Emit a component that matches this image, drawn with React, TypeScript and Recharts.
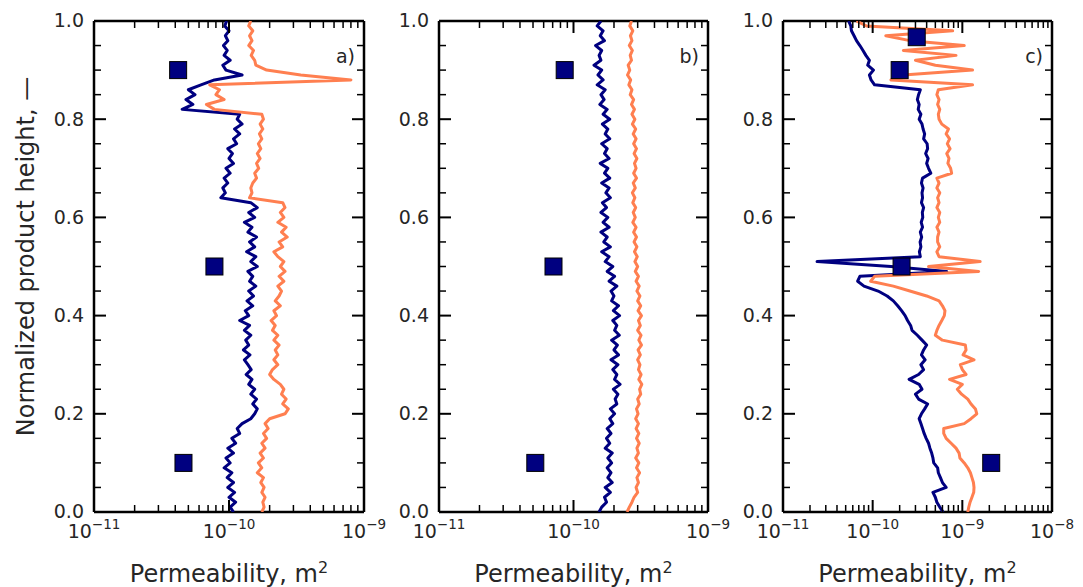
import { ComposedChart, Scatter, XAxis, YAxis } from "recharts"

// permeability values are stored in units of 1e-10 m^2, sampled from height 1.00 down to 0.00
const HEIGHTS = Array.from({ length: 101 }, (_, i) => (100 - i) / 100)

const blueA = [
    0.96, 0.93, 1.0, 0.94, 0.98, 0.91, 0.97, 0.92, 1.02, 0.9,
    0.95, 1.25, 0.78, 0.62, 0.5, 0.56, 0.48, 0.54, 0.45, 1.2,
    1.15, 1.25, 1.1, 1.2, 1.08, 1.14, 0.98, 1.06, 1.0, 1.08,
    0.95, 1.02, 0.92, 0.98, 0.9, 0.94, 0.87, 1.45, 1.62, 1.4,
    1.55, 1.3, 1.48, 1.38, 1.6, 1.42, 1.55, 1.35, 1.58, 1.45,
    1.62, 1.38, 1.5, 1.42, 1.58, 1.4, 1.52, 1.36, 1.5, 1.32,
    1.4, 1.2, 1.42, 1.3, 1.45, 1.33, 1.4, 1.28, 1.43, 1.3,
    1.38, 1.46, 1.34, 1.48, 1.4, 1.55, 1.45, 1.6, 1.5, 1.62,
    1.55, 1.45, 1.25, 1.15, 1.2, 1.05, 1.12, 0.98, 1.08, 0.95,
    1.02, 0.92, 1.05, 0.97, 1.08, 0.98, 1.1, 1.0, 1.12, 1.02,
    1.08,
]
const orangeA = [
    1.45, 1.4, 1.5, 1.42, 1.48, 1.4, 1.52, 1.46, 1.55, 1.58,
    1.9, 3.4, 8.0, 0.72, 0.85, 0.8, 0.92, 0.68, 0.78, 1.75,
    1.8, 1.7, 1.78, 1.68, 1.75, 1.65, 1.72, 1.62, 1.7, 1.6,
    1.66, 1.55, 1.6, 1.5, 1.45, 1.48, 1.42, 2.5, 2.6, 2.4,
    2.55, 2.3, 2.65, 2.45, 2.7, 2.35, 2.5, 2.15, 2.3, 2.55,
    2.4, 2.6, 2.35, 2.55, 2.3, 2.45, 2.35, 2.2, 2.4, 2.15,
    2.25, 2.05, 2.2, 2.1, 2.3, 2.15, 2.35, 2.2, 2.3, 2.15,
    2.3, 2.1, 2.0, 2.15, 2.4, 2.55, 2.45, 2.65, 2.5, 2.75,
    2.6, 2.0, 1.85, 1.95, 1.8, 1.9, 1.75, 1.85, 1.7, 1.8,
    1.65, 1.75, 1.62, 1.8, 1.72, 1.82, 1.75, 1.85, 1.78, 1.82,
    1.75,
]
const blueB = [
    1.6, 1.5, 1.66, 1.58, 1.7, 1.46, 1.62, 1.55, 1.6, 1.42,
    1.62, 1.52, 1.66, 1.5, 1.72, 1.6, 1.69, 1.57, 1.78, 1.66,
    1.86, 1.64, 1.8, 1.72, 1.86, 1.62, 1.78, 1.7, 1.84, 1.58,
    1.8, 1.7, 1.86, 1.62, 1.84, 1.74, 1.88, 1.64, 1.76, 1.6,
    1.8, 1.66, 1.84, 1.6, 1.78, 1.68, 1.88, 1.62, 1.84, 1.72,
    1.96, 1.78, 2.02, 1.84, 2.1, 1.9, 2.0, 1.92, 2.16, 1.98,
    2.2, 1.96, 2.1, 2.02, 2.19, 1.92, 2.12, 2.0, 2.16, 1.9,
    2.14, 1.96, 2.1, 2.02, 2.22, 1.98, 2.14, 2.04, 2.1, 1.88,
    2.02, 1.86, 1.96, 1.78, 1.9, 1.76, 1.86, 1.72, 1.94, 1.8,
    1.92, 1.78, 1.9, 1.8, 1.94, 1.72, 1.88, 1.7, 1.76, 1.62,
    1.55,
]
const orangeB = [
    2.7, 2.62, 2.76, 2.65, 2.72, 2.6, 2.74, 2.64, 2.7, 2.55,
    2.62, 2.52, 2.66, 2.58, 2.72, 2.64, 2.8, 2.7, 2.84, 2.72,
    2.86, 2.74, 2.9, 2.78, 2.92, 2.8, 2.94, 2.82, 2.96, 2.84,
    2.92, 2.8, 2.94, 2.78, 2.88, 2.74, 2.86, 2.76, 2.9, 2.78,
    2.88, 2.76, 2.92, 2.8, 2.94, 2.82, 2.96, 2.84, 2.98, 2.86,
    3.0, 2.88, 3.04, 2.92, 3.08, 2.96, 3.12, 3.0, 3.16, 3.02,
    3.2, 3.04, 3.14, 3.0, 3.18, 3.06, 3.2, 3.02, 3.14, 3.0,
    3.12, 3.04, 3.18, 3.06, 3.22, 3.1, 3.16, 3.0, 3.08, 2.94,
    3.02, 2.9, 3.04, 2.92, 3.06, 2.94, 3.08, 2.96, 3.04, 2.9,
    3.06, 2.94, 3.1, 2.96, 3.04, 2.92, 3.0, 2.82, 2.72, 2.6,
    2.5,
]
const blueC = [
    0.54, 0.57, 0.58, 0.62, 0.66, 0.72, 0.78, 0.84, 0.92, 0.88,
    1.02, 0.92, 0.96, 1.05, 3.4, 3.25, 3.15, 3.3, 3.22, 3.45,
    3.3, 3.55, 3.65, 3.8, 3.7, 4.05, 4.1, 3.9, 4.15, 4.0,
    4.2, 4.45, 3.6, 3.5, 3.65, 3.55, 3.6, 3.5, 3.7, 3.58,
    3.62, 3.48, 3.6, 3.4, 3.52, 3.38, 3.45, 3.32, 3.4, 0.24,
    1.6, 6.7, 0.72, 0.68, 0.8, 1.15, 1.45, 1.7, 1.9, 2.1,
    2.3, 2.45, 2.65, 2.75, 3.15, 3.55, 4.0, 3.7, 3.5, 3.85,
    3.45, 3.7, 3.25, 2.55, 3.3, 3.55, 3.0, 3.25, 4.1, 3.8,
    3.5, 3.3, 3.45, 3.6, 3.75, 3.95, 4.2, 4.35, 4.55, 4.7,
    4.8, 5.3, 5.4, 5.7, 6.0, 6.6, 4.7, 5.0, 5.2, 5.6,
    6.1,
]
const orangeC = [
    0.66, 0.85, 7.8, 1.4, 2.6, 10.5, 2.2, 8.5, 3.0, 5.0,
    13.0, 2.2, 1.6, 13.0, 5.4, 5.2, 5.5, 5.3, 5.6, 5.4,
    5.5, 5.9, 7.0, 6.6, 7.2, 6.8, 7.3, 6.7, 7.1, 6.9,
    7.4, 7.6, 5.2, 5.5, 5.2, 5.6, 5.3, 5.5, 5.2, 5.6,
    5.4, 5.6, 5.2, 5.5, 5.3, 5.3, 5.6, 5.2, 5.5, 15.8,
    4.2, 15.2, 1.05, 0.95, 1.7, 2.6, 4.0, 5.5, 6.0, 6.4,
    6.3, 5.9, 5.5, 5.2, 5.0, 6.0, 10.8, 11.0, 10.2, 13.5,
    9.5, 10.0, 11.0, 7.2, 10.0, 8.8, 9.8, 11.5, 12.5, 14.0,
    14.5, 12.5, 10.5, 6.2, 6.2, 6.6, 7.5, 8.5, 9.2, 9.4,
    10.5, 11.5, 12.3, 12.8, 13.3, 13.5, 13.4, 12.8, 12.2, 11.8,
    11.5,
]

// measured points (square markers): permeability and height
const markersA = [{ k: 0.42, h: 0.9 }, { k: 0.78, h: 0.5 }, { k: 0.46, h: 0.1 }]
const markersB = [{ k: 0.86, h: 0.9 }, { k: 0.71, h: 0.5 }, { k: 0.52, h: 0.1 }]
const markersC = [{ k: 3.1, h: 0.967 }, { k: 2.0, h: 0.9 }, { k: 2.1, h: 0.5 }, { k: 21, h: 0.1 }]

const FONT = "'DejaVu Sans', sans-serif"
const TEXT = "#262626"
const BLUE = "#000080"
const ORANGE = "#ff7f50"
const PLOT_TOP = 21
const PLOT_BOTTOM = 512
const H = 587

const Y_TICKS = Array.from({ length: 21 }, (_, i) => i / 20)

// decade ticks plus the 2..9 minor ticks, starting at 1e-11 m^2
function logTicks(decades: number) {
    const out: number[] = []
    for (let d = 0; d < decades; d++) {
        for (let m = 1; m < 10; m++) out.push(Math.pow(10, d - 1) * m)
    }
    out.push(Math.pow(10, decades - 1))
    return out
}

const toRows = (values: number[]) => values.map((k, i) => ({ k, h: HEIGHTS[i] }))

const isMajorX = (v: number) => Math.abs(Math.log10(v) - Math.round(Math.log10(v))) < 1e-6
const isMajorY = (v: number) => Math.abs(v * 5 - Math.round(v * 5)) < 1e-6

const BottomTick = (props: any) => {
    const { x, y, payload } = props
    const major = isMajorX(payload.value)
    const exp = Math.round(Math.log10(payload.value)) - 10
    return (
        <g>
            <line x1={x} x2={x} y1={y} y2={y - (major ? 12 : 7)} stroke="#000" strokeWidth={major ? 2 : 1.5} />
            {major && (
                <text x={x} y={y + 26} textAnchor="middle" fontSize={19} fontFamily={FONT} fill={TEXT}>
                    10<tspan dy={-9} fontSize={13.5}>{`\u2212${Math.abs(exp)}`}</tspan>
                </text>
            )}
        </g>
    )
}

const TopTick = (props: any) => {
    const { x, y, payload } = props
    const major = isMajorX(payload.value)
    return <line x1={x} x2={x} y1={y} y2={y + (major ? 12 : 7)} stroke="#000" strokeWidth={major ? 2 : 1.5} />
}

const LeftTick = (props: any) => {
    const { x, y, payload } = props
    const major = isMajorY(payload.value)
    return (
        <g>
            <line x1={x} x2={x + (major ? 12 : 7)} y1={y} y2={y} stroke="#000" strokeWidth={major ? 2 : 1.5} />
            {major && (
                <text x={x - 10} y={y} dy="0.34em" textAnchor="end" fontSize={19} fontFamily={FONT} fill={TEXT}>
                    {payload.value.toFixed(1)}
                </text>
            )}
        </g>
    )
}

const RightTick = (props: any) => {
    const { x, y, payload } = props
    const major = isMajorY(payload.value)
    return <line x1={x} x2={x - (major ? 12 : 7)} y1={y} y2={y} stroke="#000" strokeWidth={major ? 2 : 1.5} />
}

const XTitle = (props: any) => {
    const vb = props.viewBox
    return (
        <text x={vb.x + vb.width / 2} y={PLOT_BOTTOM + 70} textAnchor="middle" fontSize={24} fontFamily={FONT} fill={TEXT}>
            Permeability, m<tspan dy={-9} fontSize={16}>2</tspan>
        </text>
    )
}

const YTitle = (props: any) => {
    const vb = props.viewBox
    const cx = 25
    const cy = vb.y + vb.height / 2 - 10
    return (
        <text x={cx} y={cy} dy="0.36em" textAnchor="middle" fontSize={24} fontFamily={FONT} fill={TEXT} transform={`rotate(-90 ${cx} ${cy})`}>
            Normalized product height, —
        </text>
    )
}

const PanelTag = (props: any) => {
    const vb = props.viewBox
    return (
        <text x={vb.x + vb.width - 9} y={PLOT_TOP + 42} textAnchor="end" fontSize={19} fontFamily={FONT} fill={TEXT}>
            {props.tag}
        </text>
    )
}

const hiddenDot = () => <g />
const squareDot = (props: any) => (
    <rect x={props.cx - 8.5} y={props.cy - 8.5} width={17} height={17} fill={BLUE} stroke="#000" strokeWidth={1} />
)

interface PanelProps {
    left: number
    width: number
    plotLeft: number
    plotRight: number
    decades: number
    blue: number[]
    orange: number[]
    markers: { k: number; h: number }[]
    tag: string
    yTitle?: boolean
}

const Panel = ({ left, width, plotLeft, plotRight, decades, blue, orange, markers, tag, yTitle }: PanelProps) => {
    const xTicks = logTicks(decades)
    const domain = [0.1, Math.pow(10, decades - 1)]
    const frame = { stroke: "#000", strokeWidth: 2.5 }
    // every axis takes 1px, the rest of the offset is margin
    return (
        <div style={{ position: "absolute", left, top: 0 }}>
            <ComposedChart
                width={width}
                height={H}
                margin={{ top: PLOT_TOP - 1, bottom: H - PLOT_BOTTOM - 1, left: plotLeft - left - 1, right: left + width - plotRight - 1 }}
            >
                <XAxis
                    xAxisId="bottom"
                    orientation="bottom"
                    type="number"
                    dataKey="k"
                    scale="log"
                    domain={domain}
                    allowDataOverflow
                    ticks={xTicks}
                    interval={0}
                    height={1}
                    tickSize={0}
                    tickMargin={0}
                    tickLine={false}
                    axisLine={frame}
                    tick={<BottomTick />}
                    label={<XTitle />}
                />
                <XAxis
                    xAxisId="top"
                    orientation="top"
                    type="number"
                    dataKey="k"
                    scale="log"
                    domain={domain}
                    allowDataOverflow
                    ticks={xTicks}
                    interval={0}
                    height={1}
                    tickSize={0}
                    tickMargin={0}
                    tickLine={false}
                    axisLine={frame}
                    tick={<TopTick />}
                    label={<PanelTag tag={tag} />}
                />
                <YAxis
                    yAxisId="left"
                    orientation="left"
                    type="number"
                    dataKey="h"
                    domain={[0, 1]}
                    allowDataOverflow
                    ticks={Y_TICKS}
                    interval={0}
                    width={1}
                    tickSize={0}
                    tickMargin={0}
                    tickLine={false}
                    axisLine={frame}
                    tick={<LeftTick />}
                    label={yTitle ? <YTitle /> : undefined}
                />
                <YAxis
                    yAxisId="right"
                    orientation="right"
                    type="number"
                    dataKey="h"
                    domain={[0, 1]}
                    allowDataOverflow
                    ticks={Y_TICKS}
                    interval={0}
                    width={1}
                    tickSize={0}
                    tickMargin={0}
                    tickLine={false}
                    axisLine={frame}
                    tick={<RightTick />}
                />
                <Scatter
                    xAxisId="bottom"
                    yAxisId="left"
                    data={toRows(blue)}
                    line={{ stroke: BLUE, strokeWidth: 3, strokeLinejoin: "round" }}
                    lineJointType="linear"
                    shape={hiddenDot}
                    isAnimationActive={false}
                />
                <Scatter
                    xAxisId="bottom"
                    yAxisId="left"
                    data={toRows(orange)}
                    line={{ stroke: ORANGE, strokeWidth: 3, strokeLinejoin: "round" }}
                    lineJointType="linear"
                    shape={hiddenDot}
                    isAnimationActive={false}
                />
                <Scatter xAxisId="bottom" yAxisId="left" data={markers} shape={squareDot} isAnimationActive={false} />
            </ComposedChart>
        </div>
    )
}

export default function App() {
    return (
        <div style={{ position: "absolute", left: 0, top: 0, width: 1083, height: H, background: "#fff" }}>
            <Panel left={0} width={400} plotLeft={94} plotRight={364} decades={2} blue={blueA} orange={orangeA} markers={markersA} tag="a)" yTitle />
            <Panel left={370} width={380} plotLeft={439} plotRight={708} decades={2} blue={blueB} orange={orangeB} markers={markersB} tag="b)" />
            <Panel left={715} width={368} plotLeft={783} plotRight={1052} decades={3} blue={blueC} orange={orangeC} markers={markersC} tag="c)" />
        </div>
    )
}
